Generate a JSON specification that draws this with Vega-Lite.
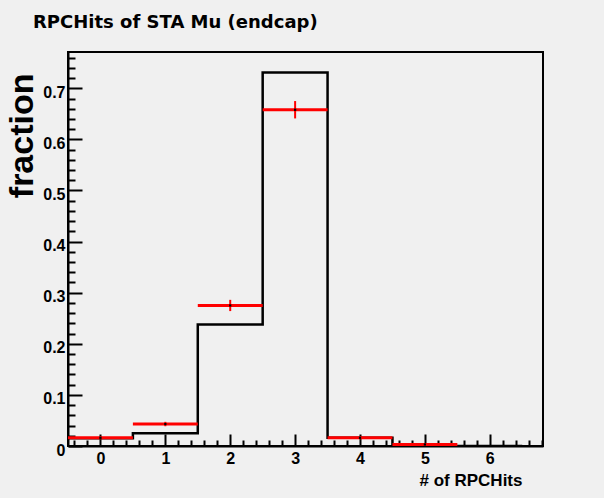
{
  "$schema": "https://vega.github.io/schema/vega-lite/v6.json",
  "width": 475,
  "height": 394,
  "autosize": "none",
  "padding": {"left": 68, "top": 52, "right": 61, "bottom": 52},
  "background": "#f0f0f0",
  "config": {
    "view": {"stroke": "black", "strokeWidth": 2},
    "font": "Liberation Sans"
  },
  "title": {
    "text": "RPCHits of STA Mu (endcap)",
    "font": "DejaVu Sans",
    "fontSize": 18,
    "fontWeight": "bold",
    "color": "black",
    "anchor": "start",
    "frame": "group",
    "baseline": "alphabetic",
    "dx": -35,
    "offset": 6
  },
  "datasets": {
    "simulation": [
      {"edge": -0.5, "fraction": 0.015},
      {"edge": 0.5, "fraction": 0.025},
      {"edge": 1.5, "fraction": 0.238},
      {"edge": 2.5, "fraction": 0.731},
      {"edge": 3.5, "fraction": 0.016},
      {"edge": 4.5, "fraction": 0},
      {"edge": 5.5, "fraction": 0},
      {"edge": 6.5, "fraction": 0}
    ],
    "measured": [
      {"bin": 0, "lo": -0.5, "hi": 0.5, "fraction": 0.016, "low": 0.0134, "high": 0.0186},
      {"bin": 1, "lo": 0.5, "hi": 1.5, "fraction": 0.043, "low": 0.0387, "high": 0.0473},
      {"bin": 2, "lo": 1.5, "hi": 2.5, "fraction": 0.275, "low": 0.264, "high": 0.286},
      {"bin": 3, "lo": 2.5, "hi": 3.5, "fraction": 0.658, "low": 0.641, "high": 0.675},
      {"bin": 4, "lo": 3.5, "hi": 4.5, "fraction": 0.016, "low": 0.0134, "high": 0.0186},
      {"bin": 5, "lo": 4.5, "hi": 5.5, "fraction": 0.003, "low": 0.002, "high": 0.004}
    ]
  },
  "layer": [
    {
      "data": {"name": "simulation"},
      "mark": {"type": "line", "interpolate": "step-after", "color": "black", "strokeWidth": 2.5, "clip": true},
      "encoding": {
        "x": {
          "field": "edge",
          "type": "quantitative",
          "scale": {"domain": [-0.5, 6.82], "nice": false, "zero": false},
          "axis": {
            "orient": "bottom",
            "values": [0, 1, 2, 3, 4, 5, 6],
            "grid": false,
            "domainColor": "black",
            "domainWidth": 2,
            "tickColor": "black",
            "tickWidth": 2,
            "tickSize": -12,
            "labelFont": "Liberation Sans",
            "labelFontSize": 16,
            "labelFontWeight": "bold",
            "labelColor": "black",
            "labelPadding": 16,
            "labelFlush": false,
            "title": "# of RPCHits",
            "titleFont": "Liberation Sans",
            "titleFontSize": 17,
            "titleFontWeight": "bold",
            "titleColor": "black",
            "titleAlign": "right",
            "titleBaseline": "alphabetic",
            "titleX": 454,
            "titleY": 39
          }
        },
        "y": {
          "field": "fraction",
          "type": "quantitative",
          "scale": {"domain": [0, 0.771], "nice": false, "zero": true},
          "axis": {
            "orient": "left",
            "values": [0, 0.1, 0.2, 0.3, 0.4, 0.5, 0.6, 0.7],
            "format": "~g",
            "grid": false,
            "domainColor": "black",
            "domainWidth": 2,
            "tickColor": "black",
            "tickWidth": 2,
            "tickSize": -14,
            "labelFont": "Liberation Sans",
            "labelFontSize": 16,
            "labelFontWeight": "bold",
            "labelColor": "black",
            "labelPadding": 17,
            "labelOffset": 4,
            "labelFlush": false,
            "title": "fraction",
            "titleFont": "Liberation Sans",
            "titleFontSize": 34,
            "titleFontWeight": "bold",
            "titleColor": "black",
            "titleAngle": -90,
            "titleAlign": "right",
            "titleBaseline": "alphabetic",
            "titleX": -36,
            "titleY": 21
          }
        }
      }
    },
    {
      "data": {"name": "measured"},
      "mark": {"type": "rule", "color": "#ff0000", "strokeWidth": 3},
      "encoding": {
        "x": {
          "field": "lo",
          "type": "quantitative",
          "axis": {
            "orient": "bottom",
            "values": [-0.4, -0.2, 0.2, 0.4, 0.6, 0.8, 1.2, 1.4, 1.6, 1.8, 2.2, 2.4, 2.6, 2.8, 3.2, 3.4, 3.6, 3.8, 4.2, 4.4, 4.6, 4.8, 5.2, 5.4, 5.6, 5.8, 6.2, 6.4, 6.6, 6.8],
            "labels": false,
            "domain": false,
            "grid": false,
            "tickColor": "black",
            "tickWidth": 2,
            "tickSize": -6,
            "title": null
          }
        },
        "x2": {"field": "hi"},
        "y": {
          "field": "fraction",
          "type": "quantitative",
          "axis": {
            "orient": "left",
            "values": [0.02, 0.04, 0.06, 0.08, 0.12, 0.14, 0.16, 0.18, 0.22, 0.24, 0.26, 0.28, 0.32, 0.34, 0.36, 0.38, 0.42, 0.44, 0.46, 0.48, 0.52, 0.54, 0.56, 0.58, 0.62, 0.64, 0.66, 0.68, 0.72, 0.74, 0.76],
            "labels": false,
            "domain": false,
            "grid": false,
            "tickColor": "black",
            "tickWidth": 2,
            "tickSize": -7,
            "title": null
          }
        }
      }
    },
    {
      "data": {"name": "measured"},
      "mark": {"type": "rule", "color": "#ff0000", "strokeWidth": 2},
      "encoding": {
        "x": {"field": "bin", "type": "quantitative", "axis": null},
        "y": {"field": "low", "type": "quantitative", "axis": null},
        "y2": {"field": "high"}
      }
    },
    {
      "data": {"name": "measured"},
      "mark": {"type": "point", "shape": "square", "filled": true, "color": "black", "size": 5, "opacity": 1},
      "encoding": {
        "x": {"field": "bin", "type": "quantitative", "axis": null},
        "y": {"field": "fraction", "type": "quantitative", "axis": null}
      }
    }
  ],
  "resolve": {"axis": {"x": "independent", "y": "independent"}}
}
